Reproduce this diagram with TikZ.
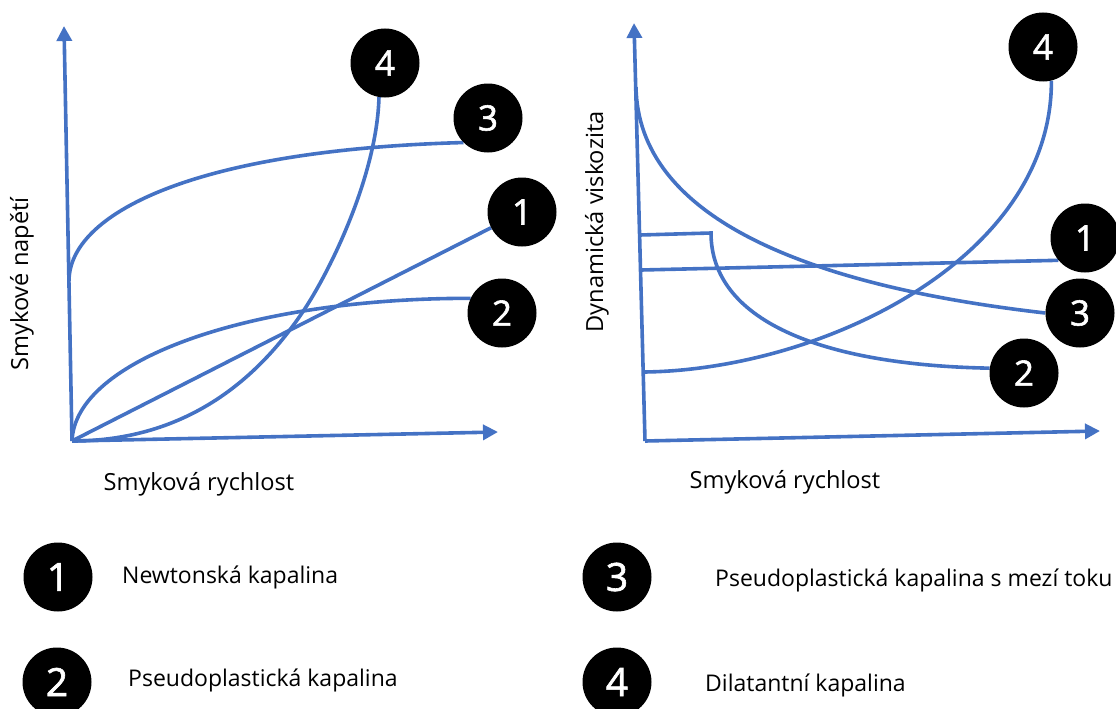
\documentclass[tikz,border=0pt]{standalone}
\usepackage{fontspec}
\setmainfont{Open Sans}
\newfontfamily\digfont[FakeBold=1.6]{Open Sans}
\usetikzlibrary{arrows.meta,backgrounds}
\definecolor{cblue}{HTML}{4472C4}
\begin{document}
\begin{tikzpicture}[x=1pt,y=-1pt,
  curve/.style={draw=cblue, line width=3.6pt},
  axis/.style={draw=cblue, line width=3.6pt, -{Triangle[length=15pt,width=15pt]}},
  numcirc/.style={circle, fill=black, inner sep=0pt, minimum size=69pt, text=white, font=\digfont\fontsize{35}{35}\selectfont},
  legcirc/.style={numcirc, font=\digfont\fontsize{39}{39}\selectfont},
  lbl/.style={font=\fontsize{23.6}{28}\selectfont, inner sep=0pt},
  leg/.style={font=\fontsize{23}{28}\selectfont, inner sep=0pt, anchor=west},
]
\useasboundingbox (0,0) rectangle (1116,709);

% number circles in the charts
\node[numcirc] (L4) at (385,63) {4};
\node[numcirc] (L3) at (488,118) {3};
\node[numcirc] (L1) at (522,212) {1};
\node[numcirc] (L2) at (502,313) {2};
\node[numcirc] (R4) at (1043,47) {4};
\node[numcirc] (R1) at (1085,238) {1};
\node[numcirc] (R3) at (1080,313) {3};
\node[numcirc] (R2) at (1024,373) {2};

% legend
\node[legcirc] (K1) at (58,577) {1};
\node[legcirc] (K2) at (57,682) {2};
\node[legcirc] (K3) at (617,577) {3};
\node[legcirc] (K4) at (617,682) {4};
\node[leg] (T1) at (122,577) {Newtonská kapalina};
\node[leg] (T2) at (128,680) {Pseudoplastická kapalina};
\node[leg] (T3) at (715,580) {Pseudoplastická kapalina s mezí toku};
\node[leg] (T4) at (705,685) {Dilatantní kapalina};

% axis labels
\node[lbl, rotate=90] (YL) at (22,284) {Smykové napětí};
\node[lbl] (XL) at (199,484) {Smyková rychlost};
\node[lbl, rotate=90] (YR) at (597,222) {Dynamická viskozita};
\node[lbl] (XR) at (785,482) {Smyková rychlost};

\coordinate (O1) at (72,441);
\coordinate (Y1) at (64,26);
\coordinate (X1) at (498,432);
\coordinate (O2) at (645,441);
\coordinate (Y2) at (634,23);
\coordinate (X2) at (1100,431);

\begin{scope}[on background layer]
  % left chart
  \draw[axis] (O1) -- (Y1);
  \draw[axis] (O1) -- (X1);
  \draw[curve] (O1) -- (L1);
  \draw[curve] (69,281) .. controls (69,215) and (190,150) .. (L3.225);
  \draw[curve] (O1) .. controls (75,360) and (250,298) .. (L2.155);
  \draw[curve] (O1) .. controls (190,441) and (260,375) .. (302,313)
                    .. controls (330,272) and (377,175) .. (L4.260);
  % right chart
  \draw[axis] (O2) -- (Y2);
  \draw[axis] (O2) -- (X2);
  \draw[curve] (641,270) -- (R1.220);
  \draw[curve] (640,235) -- (711,233) .. controls (711,320) and (820,365) .. (R2.172);
  \draw[curve] (636,87) .. controls (638,215) and (800,285) .. (R3.west);
  \draw[curve] (644,372) .. controls (820,370) and (1052,260) .. (R4.284);
\end{scope}
\end{tikzpicture}
\end{document}
